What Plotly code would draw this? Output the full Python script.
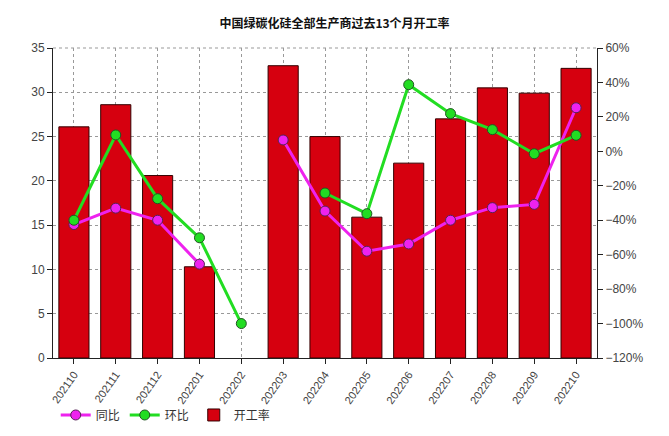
import plotly.graph_objects as go

months = ["202110", "202111", "202112", "202201", "202202", "202203", "202204",
          "202205", "202206", "202207", "202208", "202209", "202210"]
rate = [26.1, 28.6, 20.6, 10.3, None, 33.0, 25.0, 15.9, 22.0, 27.0, 30.5, 29.9, 32.7]
yoy = [-42.5, -33, -40, -65.5, None, 6.6, -34.7, -58, -53.8, -40, -32.7, -30.8, 25.3]
mom = [-40, 9.5, -27.5, -50.2, -100, None, -24.2, -36.2, 38.7, 21.9, 12.6, -1.4, 9.3]

font_family = "Liberation Sans, Arial, Noto Sans CJK SC, sans-serif"

fig = go.Figure()
fig.add_trace(go.Bar(
    x=months, y=rate, name="开工率", width=0.72, legendrank=3,
    marker=dict(color="#D6000F", line=dict(color="#330000", width=1)),
))
fig.add_trace(go.Scatter(
    x=months, y=yoy, name="同比", yaxis="y2", mode="lines+markers", legendrank=1,
    line=dict(color="#EE22EE", width=3),
    marker=dict(size=10, color="#EE22EE", line=dict(color="#552255", width=1)),
))
fig.add_trace(go.Scatter(
    x=months, y=mom, name="环比", yaxis="y2", mode="lines+markers", legendrank=2,
    line=dict(color="#22DD22", width=3),
    marker=dict(size=10, color="#22DD22", line=dict(color="#225522", width=1)),
))

fig.update_layout(
    width=669, height=436,
    margin=dict(l=53, r=72, t=48, b=78, autoexpand=False),
    paper_bgcolor="white", plot_bgcolor="white",
    font=dict(family=font_family, size=12, color="#333333"),
    title=dict(text="<b>中国绿碳化硅全部生产商过去13个月开工率</b>",
               x=0.5, xanchor="center", y=0.945, yanchor="middle",
               font=dict(size=12, color="#111111", family="Noto Sans CJK SC, sans-serif")),
    showlegend=True,
    legend=dict(orientation="h", x=0.005, y=-0.137, xanchor="left", yanchor="top",
                font=dict(size=12, family="Noto Sans CJK SC, sans-serif", color="#333333"),
                traceorder="normal",
                bgcolor="rgba(0,0,0,0)"),
    xaxis=dict(
        type="category", range=[-0.5, 12.5], tickangle=-55, automargin=False,
        showgrid=True, gridcolor="#999999", griddash="dot", gridwidth=1,
        showline=True, linecolor="#222222", linewidth=1,
        ticks="outside", ticklen=5, tickcolor="#222222",
        tickfont=dict(size=11, color="#444444"),
        mirror=False, zeroline=False,
    ),
    yaxis=dict(
        range=[0, 35], dtick=5, automargin=False,
        showgrid=True, gridcolor="#999999", griddash="dot", gridwidth=1,
        showline=True, linecolor="#222222", linewidth=1,
        ticks="outside", ticklen=5, tickcolor="#222222",
        tickfont=dict(size=12, color="#444444"), zeroline=False,
    ),
    yaxis2=dict(
        overlaying="y", side="right", range=[-120, 60], dtick=20, automargin=False,
        ticksuffix="%", showgrid=False,
        showline=True, linecolor="#222222", linewidth=1,
        ticks="outside", ticklen=5, tickcolor="#222222",
        tickfont=dict(size=12, color="#444444"), zeroline=False,
    ),
    shapes=[dict(type="line", xref="paper", yref="paper", x0=0, x1=1, y0=1, y1=1,
                 line=dict(color="#999999", width=1, dash="dot"))],
)

fig.write_html("out.html")
